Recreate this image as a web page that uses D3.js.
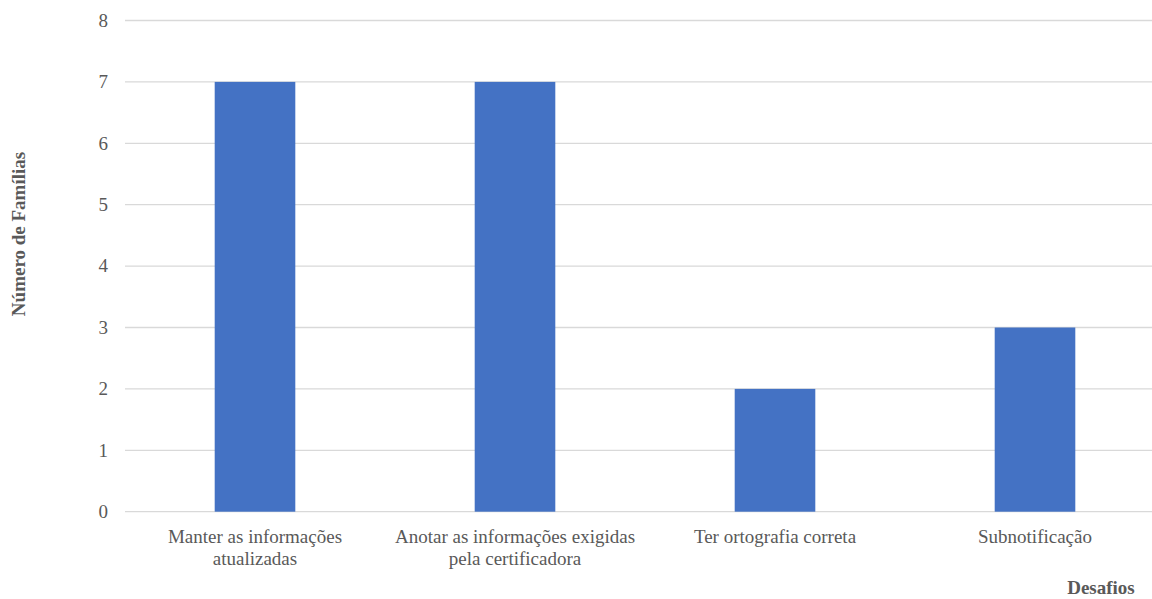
<!DOCTYPE html>
<html>
<head>
<meta charset="utf-8">
<script src="https://cdn.jsdelivr.net/npm/d3@7"></script>
<style>
  body { margin: 0; background: #fff; }
  svg { display: block; }
  text { font-family: 'Liberation Serif', 'Times New Roman', serif; }
</style>
</head>
<body>
<div id="chart"></div>
<script>
let categories = [
  ['Manter as informações', 'atualizadas'],
  ['Anotar as informações exigidas', 'pela certificadora'],
  ['Ter ortografia correta'],
  ['Subnotificação']
]
let values = [7, 7, 2, 3]
let yTicks = [0, 1, 2, 3, 4, 5, 6, 7, 8]
let yTitle = 'Número de Famílias'
let xTitle = 'Desafios'

let width = 1152
let height = 599
let plotLeft = 125
let plotRight = 1165
let plotTop = 20.5
let plotBottom = 511.7
let barColor = '#4472c4'
let gridColor = '#d9d9d9'
let textColor = '#595959'

let svg = d3.select('#chart')
  .append('svg')
  .attr('width', width)
  .attr('height', height)

let x = d3.scaleBand()
  .domain(d3.range(categories.length))
  .range([plotLeft, plotRight])
  .paddingInner(0.69)
  .paddingOuter(0.345)

let y = d3.scaleLinear()
  .domain([0, 8])
  .range([plotBottom, plotTop])

// gridlines
svg.append('g')
  .selectAll('line')
  .data(yTicks)
  .enter()
  .append('line')
  .attr('x1', plotLeft)
  .attr('x2', plotRight)
  .attr('y1', d => y(d))
  .attr('y2', d => y(d))
  .attr('stroke', gridColor)
  .attr('stroke-width', 1.3)

// y tick labels
svg.append('g')
  .selectAll('text')
  .data(yTicks)
  .enter()
  .append('text')
  .attr('x', 108)
  .attr('y', d => y(d))
  .attr('dy', '0.33em')
  .attr('text-anchor', 'end')
  .style('font-size', '19px')
  .style('fill', textColor)
  .text(d => d)

// bars
svg.append('g')
  .selectAll('rect')
  .data(values)
  .enter()
  .append('rect')
  .attr('x', (d, i) => x(i))
  .attr('width', x.bandwidth())
  .attr('y', d => y(d))
  .attr('height', d => y(0) - y(d))
  .attr('fill', barColor)

// category labels
let catG = svg.append('g')
  .selectAll('text')
  .data(categories)
  .enter()
  .append('text')
  .attr('text-anchor', 'middle')
  .style('font-size', '19px')
  .style('fill', textColor)

catG.selectAll('tspan')
  .data((d, i) => d.map(t => ({ t: t, i: i })))
  .enter()
  .append('tspan')
  .attr('x', d => x(d.i) + x.bandwidth() / 2)
  .attr('y', (d, j) => 543 + j * 22)
  .text(d => d.t)

// axis titles
svg.append('text')
  .attr('transform', 'translate(25,234)rotate(-90)')
  .attr('text-anchor', 'middle')
  .style('font-size', '19px')
  .style('font-weight', 'bold')
  .style('fill', textColor)
  .text(yTitle)

svg.append('text')
  .attr('x', 1101)
  .attr('y', 594)
  .attr('text-anchor', 'middle')
  .style('font-size', '19px')
  .style('font-weight', 'bold')
  .style('fill', textColor)
  .text(xTitle)
</script>
</body>
</html>
